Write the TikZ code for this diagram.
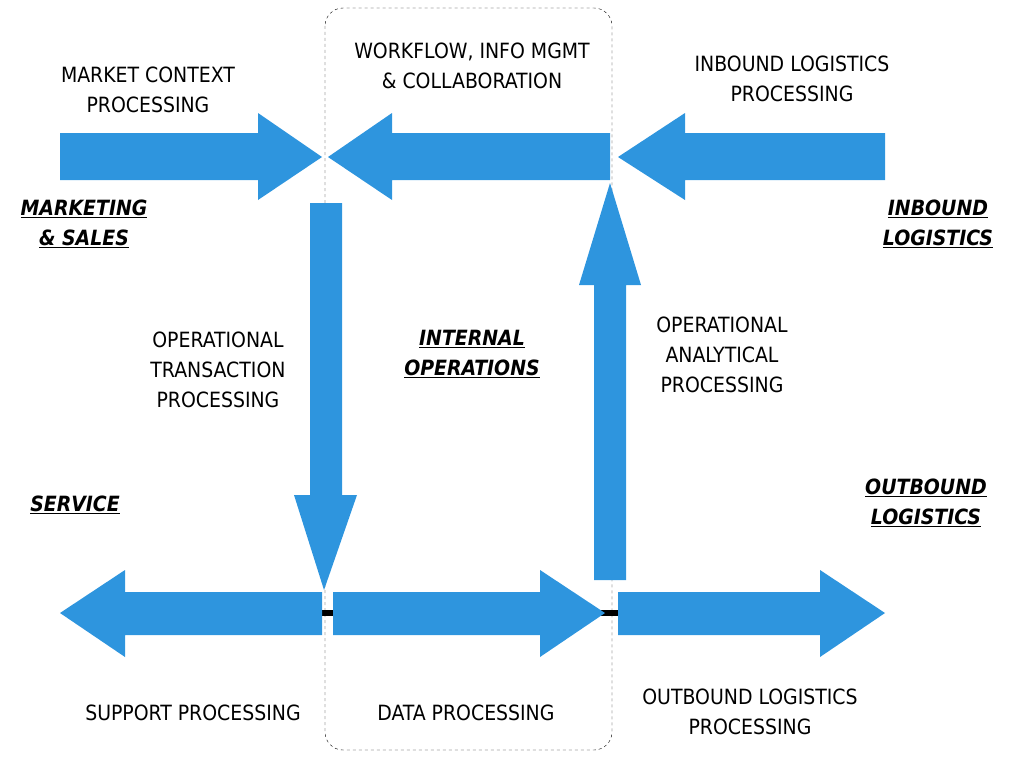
\documentclass[tikz,border=0pt]{standalone}
\usepackage{fontspec}
\setmainfont{DejaVu Sans Condensed}
\usepackage{tikz}
\definecolor{flowblue}{HTML}{2E95DE}

\begin{document}
\begin{tikzpicture}[x=1pt, y=-1pt,
        flow/.style={fill=flowblue, draw=none},
        lbl/.style={align=center, font=\fontsize{21}{30}\selectfont},
        area/.style={align=center, font=\fontsize{21}{30}\selectfont\bfseries\itshape}
        ]
        \useasboundingbox (0,0) rectangle (1024,768);

        % workflow region
        \draw[dashed, rounded corners=18pt] (325,8) rectangle (612,750);

        % black joint line
        \draw[line width=6pt] (322,613) -- (618,613);

        % top row
        \fill[flow] (60,133) -- (258,133) -- (258,113) -- (322,157) -- (258,200) -- (258,180) -- (60,180) -- cycle;
        \fill[flow] (610,133) -- (392,133) -- (392,113) -- (328,157) -- (392,200) -- (392,180) -- (610,180) -- cycle;
        \fill[flow] (885,133) -- (685,133) -- (685,113) -- (618,157) -- (685,200) -- (685,180) -- (885,180) -- cycle;

        % verticals
        \fill[flow] (310,203) -- (342,203) -- (342,495) -- (357,495) -- (324,590) -- (294,495) -- (310,495) -- cycle;
        \fill[flow] (594,580) -- (626,580) -- (626,285) -- (641,285) -- (610,183) -- (579,285) -- (594,285) -- cycle;

        % bottom row
        \fill[flow] (322,592) -- (125,592) -- (125,570) -- (60,613) -- (125,657) -- (125,635) -- (322,635) -- cycle;
        \fill[flow] (333,592) -- (540,592) -- (540,570) -- (605,613) -- (540,657) -- (540,635) -- (333,635) -- cycle;
        \fill[flow] (618,592) -- (820,592) -- (820,570) -- (885,613) -- (820,657) -- (820,635) -- (618,635) -- cycle;

        % labels
        \node[lbl] (market) at (148,90) {MARKET CONTEXT\\PROCESSING};
        \node[lbl] (workflow) at (472,66) {WORKFLOW, INFO MGMT\\\& COLLABORATION};
        \node[lbl] (inbound) at (792,79) {INBOUND LOGISTICS\\PROCESSING};
        \node[lbl] (optrans) at (218,370) {OPERATIONAL\\TRANSACTION\\PROCESSING};
        \node[lbl] (opanal) at (722,355) {OPERATIONAL\\ANALYTICAL\\PROCESSING};
        \node[lbl] (support) at (193,713) {SUPPORT PROCESSING};
        \node[lbl] (data) at (466,713) {DATA PROCESSING};
        \node[lbl] (outbound) at (750,712) {OUTBOUND LOGISTICS\\PROCESSING};

        % areas
        \node[area] (sales) at (84,224) {\underline{MARKETING}\\\underline{\& SALES}};
        \node[area] (inlog) at (938,224) {\underline{INBOUND}\\\underline{LOGISTICS}};
        \node[area] (internal) at (472,354) {\underline{INTERNAL}\\\underline{OPERATIONS}};
        \node[area] (service) at (75,505) {\underline{SERVICE}};
        \node[area] (outlog) at (926,503) {\underline{OUTBOUND}\\\underline{LOGISTICS}};
\end{tikzpicture}
\end{document}
